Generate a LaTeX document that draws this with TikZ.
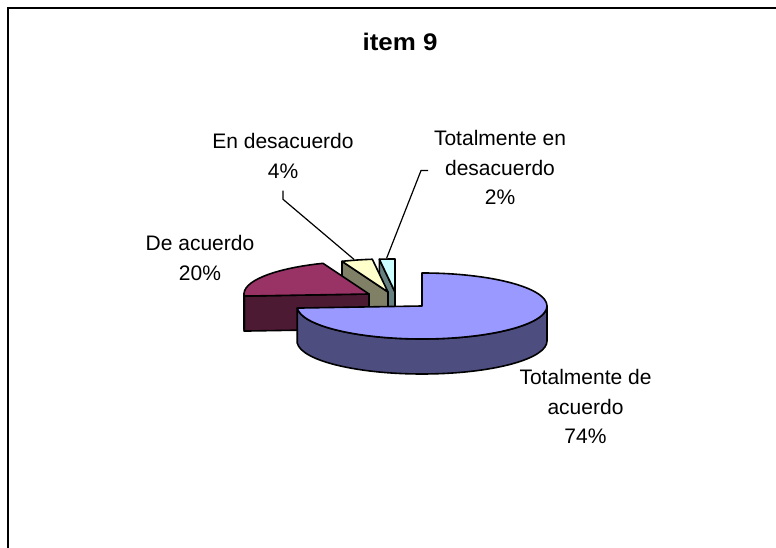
\documentclass[tikz,border=0pt]{standalone}
\usepackage{fontspec}
\setmainfont{Liberation Sans}
\newfontfamily\titlefont[FakeStretch=1.08]{Liberation Sans}
\usetikzlibrary{calc}
\definecolor{blueTop}{HTML}{9999FF}
\definecolor{blueSide}{HTML}{4D4D80}
\definecolor{plumTop}{HTML}{993366}
\definecolor{plumSide}{HTML}{4D1A33}
\definecolor{ivoryTop}{HTML}{FFFFCC}
\definecolor{ivorySide}{HTML}{808066}
\definecolor{aquaTop}{HTML}{CCFFFF}
\definecolor{aquaSide}{HTML}{668080}
\begin{document}
\begin{tikzpicture}[x=1pt,y=1pt,
  facet/.style={draw=black,line width=1.6pt,line join=round},
  lbl/.style={inner sep=0pt,anchor=base,font=\fontsize{21}{29.5}\selectfont},
  leader/.style={draw=black,line width=1.2pt},
  er/.style={x radius=125pt,y radius=33pt}]
\useasboundingbox (0,0) rectangle (776,548);
% frame
\draw[line width=2pt] (8,-5) -- (8,539.8) -- (781,539.8);
% centres
\coordinate (C0) at (422,242);
\coordinate (C1) at (369,254);
\coordinate (C2) at (388,256);
\coordinate (C3) at (395,256);
% Totalmente en desacuerdo (2%)
\path[facet,fill=aquaSide] (C3) -- ($(C3)+(97.2:125pt and 33pt)$) -- ++(0,-35) -- ($(C3)+(0,-35)$) -- cycle;
\path[facet,fill=aquaTop] (C3) -- ($(C3)+(90:125pt and 33pt)$) arc[start angle=90,end angle=97.2,er] -- cycle;
% En desacuerdo (4%)
\path[facet,fill=ivorySide] (C2) -- ($(C2)+(111.6:125pt and 33pt)$) -- ++(0,-35) -- ($(C2)+(0,-35)$) -- cycle;
\path[facet,fill=ivoryTop] (C2) -- ($(C2)+(97.2:125pt and 33pt)$) arc[start angle=97.2,end angle=111.6,er] -- cycle;
% De acuerdo (20%)
\path[facet,fill=plumSide] (C1) -- ($(C1)+(183.6:125pt and 33pt)$) -- ++(0,-35) -- ($(C1)+(0,-35)$) -- cycle;
\path[facet,fill=plumSide] ($(C1)+(180:125pt and 33pt)$) arc[start angle=180,end angle=183.6,er] -- ++(0,-35) arc[start angle=183.6,end angle=180,er] -- cycle;
\path[facet,fill=plumTop] (C1) -- ($(C1)+(111.6:125pt and 33pt)$) arc[start angle=111.6,end angle=183.6,er] -- cycle;
% Totalmente de acuerdo (74%)
\path[facet,fill=blueSide] ($(C0)+(0:125pt and 33pt)$) arc[start angle=0,end angle=-176.4,er] -- ++(0,-35) arc[start angle=-176.4,end angle=0,er] -- cycle;
\path[facet,fill=blueTop] (C0) -- ($(C0)+(90:125pt and 33pt)$) arc[start angle=90,end angle=-176.4,er] -- cycle;
% title
\node[anchor=base,inner sep=0pt] (title) at (400,497.3) {\titlefont\bfseries\fontsize{24}{28}\selectfont item 9};
% labels
\node[lbl] (lblED) at (283,399.4) {\begin{tabular}[t]{@{}c@{}}En desacuerdo\\4\%\end{tabular}};
\node[lbl] (lblTED) at (500,402) {\begin{tabular}[t]{@{}c@{}}Totalmente en\\desacuerdo\\2\%\end{tabular}};
\node[lbl] (lblDA) at (200,297.3) {\begin{tabular}[t]{@{}c@{}}De acuerdo\\20\%\end{tabular}};
\node[lbl] (lblTDA) at (585.5,163.4) {\begin{tabular}[t]{@{}c@{}}Totalmente de\\acuerdo\\74\%\end{tabular}};
% leader lines
\coordinate (k1) at (283,357.4);
\coordinate (k1b) at (283,348.7);
\coordinate (e1) at (354,288.6);
\draw[leader] (k1) -- (k1b) -- (e1);
\coordinate (k2) at (428,377.4);
\coordinate (k2b) at (421,377.4);
\coordinate (e2) at (386.5,289.5);
\draw[leader] (k2) -- (k2b) -- (e2);
\end{tikzpicture}
\end{document}
